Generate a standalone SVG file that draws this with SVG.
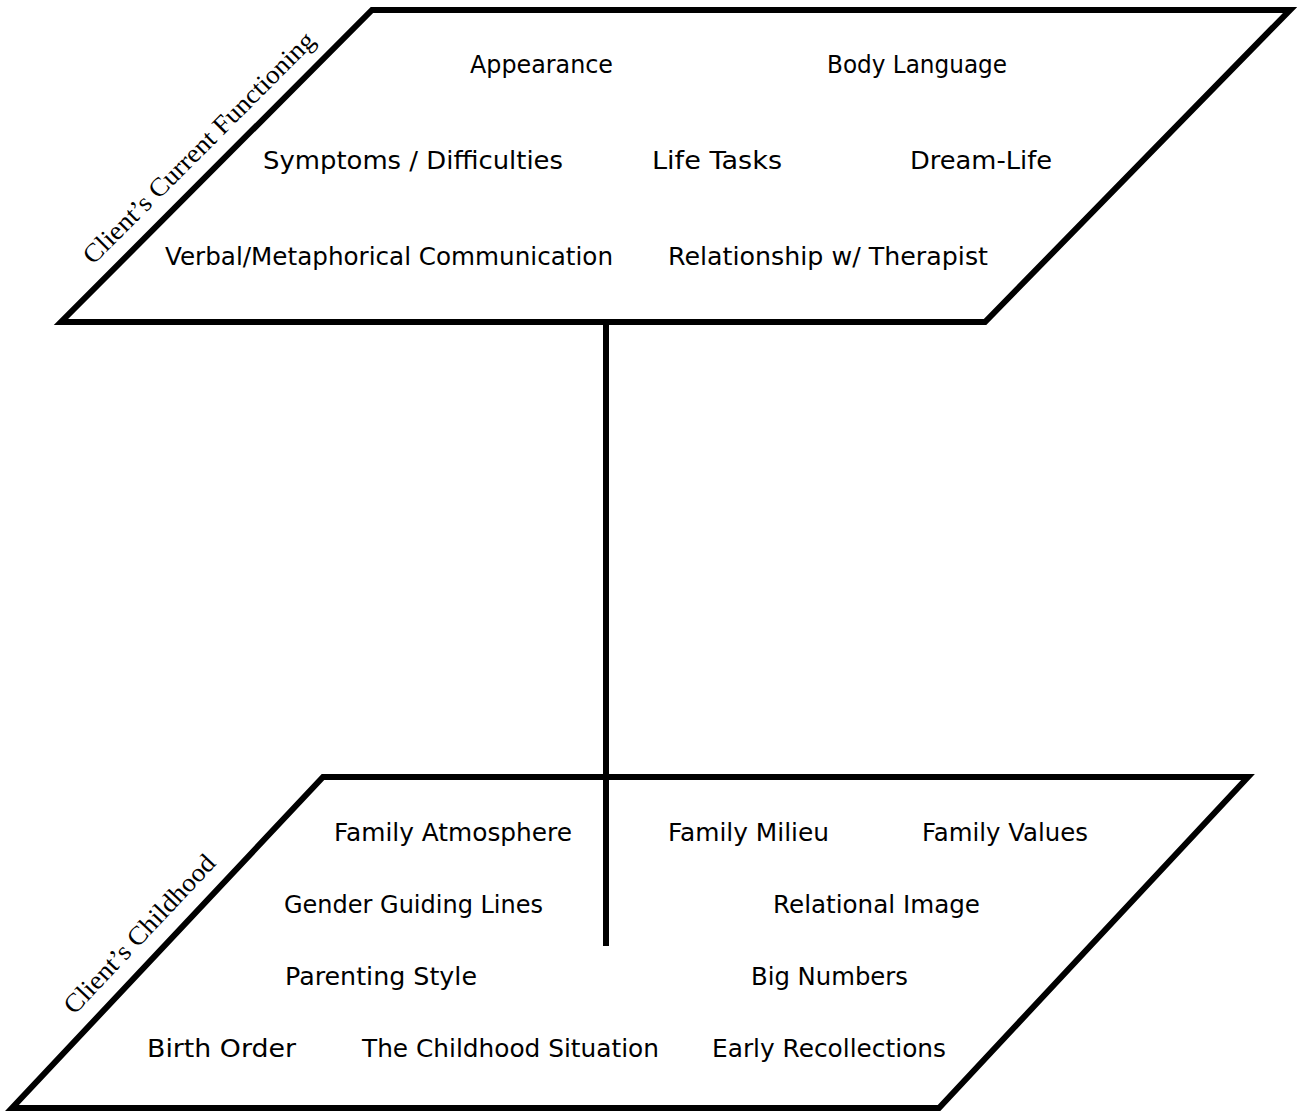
<svg xmlns="http://www.w3.org/2000/svg" width="1297" height="1113" viewBox="0 0 1297 1113">
<style>
.plane{fill:none;stroke:#000;stroke-width:6;stroke-linejoin:miter}
.conn{stroke:#000;stroke-width:6;fill:none}
.t{font-family:"DejaVu Sans","Liberation Sans",sans-serif;font-size:24px;fill:#000}
.lbl{font-family:"Liberation Serif","DejaVu Serif",serif;font-size:26px;fill:#000}
</style>
<rect width="1297" height="1113" fill="#fff"/>
<g id="connectors">
<line class="conn" x1="606" y1="322" x2="606" y2="946"/>
</g>
<g id="current-functioning">
<polygon class="plane" points="372,10 1290,10 985,322 61,322"/>
<text class="lbl" transform="translate(62,322) rotate(-45)" x="62" y="-18" textLength="316" lengthAdjust="spacingAndGlyphs">Client’s Current Functioning</text>
<text class="t" x="470" y="73" textLength="143" lengthAdjust="spacingAndGlyphs">Appearance</text>
<text class="t" x="827" y="73" textLength="180" lengthAdjust="spacingAndGlyphs">Body Language</text>
<text class="t" x="263" y="169" textLength="300" lengthAdjust="spacingAndGlyphs">Symptoms / Difficulties</text>
<text class="t" x="652" y="169" textLength="130" lengthAdjust="spacingAndGlyphs">Life Tasks</text>
<text class="t" x="910" y="169" textLength="142" lengthAdjust="spacingAndGlyphs">Dream-Life</text>
<text class="t" x="165" y="265" textLength="448" lengthAdjust="spacingAndGlyphs">Verbal/Metaphorical Communication</text>
<text class="t" x="668" y="265" textLength="320" lengthAdjust="spacingAndGlyphs">Relationship w/ Therapist</text>
</g>
<g id="childhood">
<polygon class="plane" points="323,777 1248,777 939,1108 12,1108"/>
<text class="lbl" transform="translate(12,1108) rotate(-46.7)" x="110" y="-18" textLength="208" lengthAdjust="spacingAndGlyphs">Client’s Childhood</text>
<text class="t" x="334" y="841" textLength="238" lengthAdjust="spacingAndGlyphs">Family Atmosphere</text>
<text class="t" x="668" y="841" textLength="161" lengthAdjust="spacingAndGlyphs">Family Milieu</text>
<text class="t" x="922" y="841" textLength="166" lengthAdjust="spacingAndGlyphs">Family Values</text>
<text class="t" x="284" y="913" textLength="259" lengthAdjust="spacingAndGlyphs">Gender Guiding Lines</text>
<text class="t" x="773" y="913" textLength="207" lengthAdjust="spacingAndGlyphs">Relational Image</text>
<text class="t" x="285" y="985" textLength="192" lengthAdjust="spacingAndGlyphs">Parenting Style</text>
<text class="t" x="751" y="985" textLength="157" lengthAdjust="spacingAndGlyphs">Big Numbers</text>
<text class="t" x="147" y="1057" textLength="149" lengthAdjust="spacingAndGlyphs">Birth Order</text>
<text class="t" x="362" y="1057" textLength="297" lengthAdjust="spacingAndGlyphs">The Childhood Situation</text>
<text class="t" x="712" y="1057" textLength="234" lengthAdjust="spacingAndGlyphs">Early Recollections</text>
</g>
</svg>
